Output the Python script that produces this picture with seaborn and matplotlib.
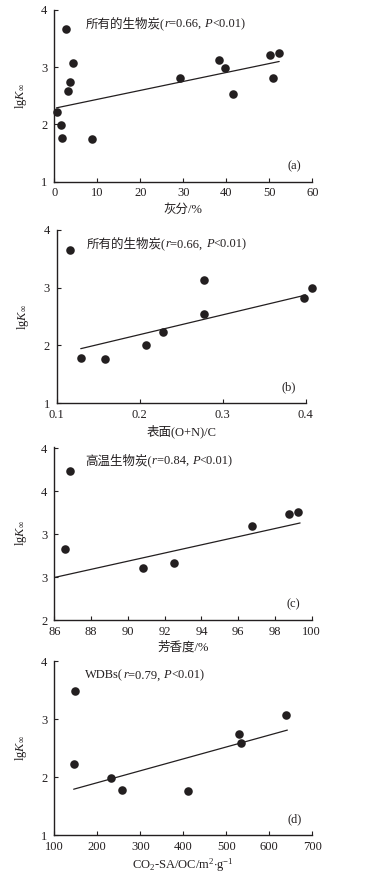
import numpy as np
import pandas as pd
import matplotlib
matplotlib.use('Agg')
import matplotlib.pyplot as plt
import seaborn as sns

sns.set_theme(style='ticks')
plt.rcParams['font.family'] = ['Liberation Serif', 'Noto Sans CJK SC']
plt.rcParams['mathtext.fontset'] = 'custom'
plt.rcParams['mathtext.rm'] = 'Liberation Serif'
plt.rcParams['mathtext.it'] = 'Liberation Serif:italic'

# (a) 灰分
ash_x = [2.8, 4.3, 3.6, 3.3, 0.6, 1.6, 1.8, 8.8, 29.3, 38.2, 39.6, 41.6, 50.2, 52.2, 50.8]
ash_y = [3.67, 3.08, 2.75, 2.58, 2.21, 1.99, 1.77, 1.75, 2.82, 3.12, 2.99, 2.53, 3.22, 3.25, 2.82]
ash_fit_x = [0.5, 52.3]
ash_fit_y = [2.29, 3.10]

# (b) 表面(O+N)/C
onc_x = [0.116, 0.129, 0.158, 0.208, 0.228, 0.278, 0.278, 0.398, 0.408]
onc_y = [3.65, 1.78, 1.77, 2.01, 2.23, 3.13, 2.55, 2.82, 3.00]
onc_fit_x = [0.129, 0.408]
onc_fit_y = [1.945, 2.90]

# (c) 芳香度
aro_x = [86.83, 86.6, 90.82, 92.49, 96.75, 98.75, 99.28]
aro_y = [3.73, 2.83, 2.60, 2.66, 3.09, 3.23, 3.26]
aro_fit_x = [86.0, 99.37]
aro_fit_y = [2.495, 3.13]
aro_yticks = [2, 2.5, 3, 3.5, 4]
aro_ylabels = ['2', '3', '3', '4', '4']

# (d) CO2-SA/OC
sa_x = [148.8, 145, 231.8, 258, 412, 529.5, 534, 640]
sa_y = [3.49, 2.22, 1.99, 1.78, 1.76, 2.75, 2.58, 3.07]
sa_fit_x = [145, 642]
sa_fit_y = [1.79, 2.81]


def note_pieces(head, r, p):
    return [(head + '(', 'normal'), ('r', 'italic'), ('=' + r + ', ', 'normal'),
            ('P', 'italic'), ('<' + p + ')', 'normal')]


panels = [
    dict(x=ash_x, y=ash_y, fx=ash_fit_x, fy=ash_fit_y, xlim=(0, 60), xticks=[0, 10, 20, 30, 40, 50, 60],
         xtl=['0', '10', '20', '30', '40', '50', '60'], ylim=(1, 4), yticks=[1, 2, 3, 4], ytl=['1', '2', '3', '4'],
         note=note_pieces('所有的生物炭', '0.66', '0.01'), tag='(a)', xlabel='灰分/%',
         pos=[0.1418, 0.7921, 0.6736, 0.1965]),
    dict(x=onc_x, y=onc_y, fx=onc_fit_x, fy=onc_fit_y, xlim=(0.1, 0.4), xticks=[0.1, 0.2, 0.3, 0.4],
         xtl=['0.1', '0.2', '0.3', '0.4'], ylim=(1, 4), yticks=[1, 2, 3, 4], ytl=['1', '2', '3', '4'],
         note=note_pieces('所有的生物炭', '0.66', '0.01'), tag='(b)', xlabel='表面(O+N)/C',
         pos=[0.148, 0.5386, 0.650, 0.1983]),
    dict(x=aro_x, y=aro_y, fx=aro_fit_x, fy=aro_fit_y, xlim=(86, 100), xticks=[86, 88, 90, 92, 94, 96, 98, 100],
         xtl=['86', '88', '90', '92', '94', '96', '98', '100'], ylim=(2, 4.02), yticks=aro_yticks, ytl=aro_ylabels,
         note=note_pieces('高温生物炭', '0.84', '0.01'), tag='(c)', xlabel='芳香度/%',
         pos=[0.1418, 0.2906, 0.672, 0.1985]),
    dict(x=sa_x, y=sa_y, fx=sa_fit_x, fy=sa_fit_y, xlim=(100, 700), xticks=[100, 200, 300, 400, 500, 600, 700],
         xtl=['100', '200', '300', '400', '500', '600', '700'], ylim=(1, 4), yticks=[1, 2, 3, 4], ytl=['1', '2', '3', '4'],
         note=note_pieces('WDBs', '0.79', '0.01'), tag='(d)',
         xlabel=r'CO$_2$-SA/OC/m$^2$$\cdot$g$^{-1}$',
         pos=[0.1418, 0.0446, 0.6736, 0.199]),
]

fig = plt.figure(figsize=(3.83, 8.74), dpi=100)
renderer = fig.canvas.get_renderer()
ink = '#231f20'

for p in panels:
    ax = fig.add_axes(p['pos'])
    df = pd.DataFrame({'x': p['x'], 'y': p['y']})
    sns.scatterplot(data=df, x='x', y='y', ax=ax, s=38, color=ink, edgecolor=ink, linewidth=0, clip_on=False, zorder=3)
    fit = pd.DataFrame({'x': p['fx'], 'y': p['fy']})
    sns.lineplot(data=fit, x='x', y='y', ax=ax, color=ink, linewidth=0.9)
    ax.set_xlim(*p['xlim'])
    ax.set_ylim(*p['ylim'])
    ax.set_xticks(p['xticks'])
    ax.set_xticklabels(p['xtl'])
    ax.set_yticks(p['yticks'])
    ax.set_yticklabels(p['ytl'])
    ax.tick_params(direction='in', length=3, width=0.8, labelsize=9, colors=ink)
    ax.tick_params(axis='x', pad=4)
    ax.tick_params(axis='y', pad=5)
    for s in ['top', 'right']:
        ax.spines[s].set_visible(False)
    for s in ['left', 'bottom']:
        ax.spines[s].set_linewidth(1.0)
        ax.spines[s].set_color(ink)
    ax.set_xlabel(p['xlabel'], fontsize=9, color=ink, labelpad=3)
    ax.set_ylabel(r'lg$K_{\infty}$', fontsize=9, color=ink, labelpad=9)

    # 注释文字, r 和 P 用斜体, 逐段拼接
    x0 = 0.12
    for txt, sty in p['note']:
        t = ax.text(x0, 0.90, txt, transform=ax.transAxes, fontsize=9, color=ink,
                    va='baseline', ha='left', style=sty)
        bb = t.get_window_extent(renderer)
        x0 = ax.transAxes.inverted().transform((bb.x1, bb.y0))[0]
    ax.text(0.93, 0.09, p['tag'], transform=ax.transAxes, fontsize=9, color=ink, va='center', ha='center')

fig.savefig('out.png', dpi=100, facecolor='white')
